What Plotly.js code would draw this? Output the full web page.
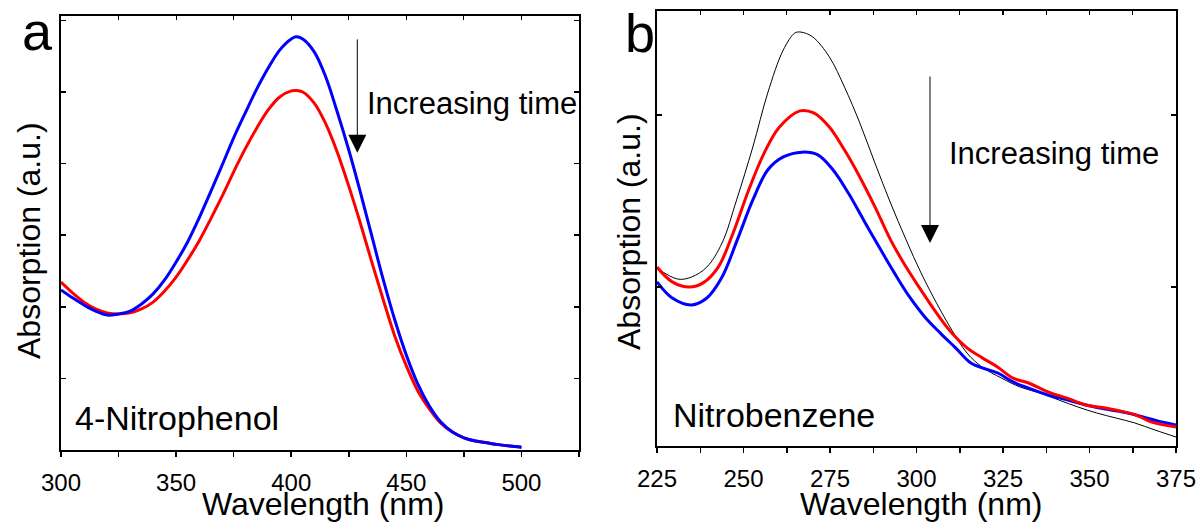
<!DOCTYPE html>
<html><head><meta charset="utf-8">
<script src="https://cdn.plot.ly/plotly-3.0.1.min.js"></script>
<style>html,body{margin:0;padding:0;background:#fff}</style>
</head><body><div id="chart" style="width:1199px;height:522px"></div>
<script>
// ---- Panel a: 4-Nitrophenol ----
const wavelengthA = [300,305,310,315,320,325,330,335,340,345,350,355,360,365,370,375,380,385,390,395,400,402,405,410,415,420,425,430,435,440,445,450,455,460,465,470,475,480,485,490,495,500];
const nitrophenolBlue = [0.447,0.425,0.405,0.388,0.377,0.380,0.388,0.408,0.436,0.475,0.525,0.581,0.648,0.721,0.796,0.872,0.941,1.008,1.067,1.117,1.148,1.154,1.148,1.112,1.042,0.944,0.838,0.721,0.598,0.475,0.363,0.265,0.184,0.123,0.078,0.050,0.034,0.025,0.020,0.015,0.011,0.008];
const nitrophenolRed = [0.469,0.439,0.413,0.394,0.383,0.380,0.383,0.394,0.413,0.444,0.483,0.531,0.584,0.645,0.709,0.777,0.841,0.899,0.950,0.986,1.003,1.004,1.000,0.969,0.911,0.832,0.737,0.634,0.525,0.419,0.318,0.235,0.165,0.115,0.075,0.050,0.034,0.025,0.020,0.015,0.011,0.008];

// ---- Panel b: Nitrobenzene ----
const wavelengthBBlack = [225,231,235,239.4,243.8,248,252.7,257,261.5,264.8,266.6,270,274.8,279.2,283.6,288,292.5,297,301.3,305.8,310.2,314.6,319,324.6,330,335.6,341,346.7,352,357.7,363,369,375];
const nitrobenzeneBlack = [0.555,0.523,0.529,0.558,0.628,0.753,0.907,1.064,1.189,1.238,1.241,1.227,1.169,1.081,0.977,0.860,0.744,0.637,0.541,0.453,0.375,0.308,0.267,0.235,0.209,0.192,0.172,0.151,0.134,0.119,0.105,0.084,0.064];
const wavelengthBRed = [225,229.4,234.4,238.3,242.7,247,251.5,256,260.4,266.3,270.3,274.8,279.2,283.6,288,292.5,297,301.3,305.8,310.2,314.6,319,323.5,327.9,332.4,338,343.5,349,354.6,360,363.4,367.8,375];
const nitrobenzeneRed = [0.558,0.515,0.500,0.512,0.558,0.657,0.782,0.890,0.965,1.012,1.006,0.965,0.898,0.820,0.733,0.637,0.558,0.491,0.424,0.366,0.323,0.294,0.267,0.235,0.221,0.195,0.177,0.157,0.148,0.137,0.128,0.108,0.093];
const wavelengthBBlue = [225,229.4,235,239.4,243.8,248.2,252.7,257,261.5,267,271.5,275.9,280.3,284.7,289.2,293.6,298,302.4,306.9,311.3,315.7,319,323.5,327.9,332.4,338,343.5,349,354.6,361,365.5,369.9,375];
const nitrobenzeneBlue = [0.515,0.468,0.448,0.468,0.529,0.637,0.753,0.840,0.878,0.892,0.884,0.840,0.773,0.695,0.616,0.541,0.471,0.413,0.366,0.323,0.279,0.265,0.250,0.224,0.206,0.186,0.172,0.157,0.145,0.134,0.122,0.110,0.099];

const FONT = "Liberation Sans, Arial, sans-serif";
const W = 1199, H = 522;
const px = v => v / W;
const py = v => 1 - v / H;

const line = (x, y, color, width, xa, ya) => ({
  type: 'scatter', mode: 'lines', x: x, y: y, xaxis: xa, yaxis: ya,
  line: {color: color, width: width, shape: 'spline', smoothing: 1},
  hoverinfo: 'skip', showlegend: false
});

const traces = [
  line(wavelengthA, nitrophenolRed, '#ff0000', 3, 'x', 'y'),
  line(wavelengthA, nitrophenolBlue, '#0000ff', 3, 'x', 'y'),
  line(wavelengthBBlack, nitrobenzeneBlack, '#000000', 1, 'x2', 'y2'),
  line(wavelengthBBlue, nitrobenzeneBlue, '#0000ff', 3, 'x2', 'y2'),
  line(wavelengthBRed, nitrobenzeneRed, '#ff0000', 3, 'x2', 'y2'),
  {type: 'scatter', x: [], y: [], xaxis: 'x3', yaxis: 'y', showlegend: false, hoverinfo: 'skip'},
  {type: 'scatter', x: [], y: [], xaxis: 'x4', yaxis: 'y2', showlegend: false, hoverinfo: 'skip'}
];

const tickFont = {family: FONT, size: 24, color: '#000'};
const baseX = {
  showgrid: false, zeroline: false, showline: true, linecolor: '#000', linewidth: 2,
  mirror: true, ticks: 'outside', ticklen: 5, tickwidth: 1.5, tickcolor: '#000',
  tickfont: tickFont, ticklabelstandoff: 5, fixedrange: true
};
const baseY = {
  showgrid: false, zeroline: false, showline: true, linecolor: '#000', linewidth: 2,
  mirror: 'ticks', ticks: 'inside', ticklen: 5, tickwidth: 1.5, tickcolor: '#000',
  showticklabels: false, fixedrange: true
};
const topAxis = {
  side: 'top', showgrid: false, zeroline: false, showline: false,
  ticks: 'inside', ticklen: 4, tickwidth: 1.2, tickcolor: '#000', showticklabels: false, fixedrange: true
};

const layout = {
  width: W, height: H, autosize: false,
  margin: {l: 0, r: 0, t: 0, b: 0},
  paper_bgcolor: '#fff', plot_bgcolor: '#fff',
  font: {family: FONT, color: '#000'},
  xaxis: Object.assign({}, baseX, {domain: [px(61), px(579)], range: [300, 525], tick0: 300, dtick: 50,
    minor: {dtick: 25, ticks: 'outside', ticklen: 5, tickwidth: 1.5, tickcolor: '#000', showgrid: false}}),
  yaxis: Object.assign({}, baseY, {domain: [py(450), py(16)], range: [0, 1.2123], tick0: 0, dtick: 0.2}),
  xaxis2: Object.assign({}, baseX, {domain: [px(657), px(1176)], range: [225, 375], tick0: 225, dtick: 25, anchor: 'y2',
    minor: {dtick: 12.5, ticks: 'outside', ticklen: 5, tickwidth: 1.5, tickcolor: '#000', showgrid: false}}),
  yaxis2: Object.assign({}, baseY, {domain: [py(446), py(11)], range: [0.0378, 1.3023], tick0: 0, dtick: 0.5, anchor: 'x2'}),
  xaxis3: Object.assign({}, topAxis, {overlaying: 'x', anchor: 'y', range: [300, 525], tick0: 300, dtick: 25}),
  xaxis4: Object.assign({}, topAxis, {overlaying: 'x2', anchor: 'y2', range: [225, 375], tick0: 225, dtick: 12.5}),
  annotations: [
    // panel letters
    {text: 'a', xref: 'paper', yref: 'paper', x: px(37), y: py(31), showarrow: false, font: {family: FONT, size: 54}, xanchor: 'center', yanchor: 'middle'},
    {text: 'b', xref: 'paper', yref: 'paper', x: px(640), y: py(33), showarrow: false, font: {family: FONT, size: 54}, xanchor: 'center', yanchor: 'middle'},
    // axis titles
    {text: 'Wavelength (nm)', xref: 'paper', yref: 'paper', x: px(323), y: py(504), showarrow: false, font: {family: FONT, size: 32}, xanchor: 'center', yanchor: 'middle'},
    {text: 'Wavelength (nm)', xref: 'paper', yref: 'paper', x: px(921), y: py(504), showarrow: false, font: {family: FONT, size: 32}, xanchor: 'center', yanchor: 'middle'},
    {text: 'Absorption (a.u.)', xref: 'paper', yref: 'paper', x: px(29), y: py(241), textangle: -90, showarrow: false, font: {family: FONT, size: 32}, xanchor: 'center', yanchor: 'middle'},
    {text: 'Absorption (a.u.)', xref: 'paper', yref: 'paper', x: px(629), y: py(232), textangle: -90, showarrow: false, font: {family: FONT, size: 32}, xanchor: 'center', yanchor: 'middle'},
    // sample names
    {text: '4-Nitrophenol', xref: 'paper', yref: 'paper', x: px(73), y: py(418), showarrow: false, font: {family: FONT, size: 34}, xanchor: 'left', yanchor: 'middle'},
    {text: 'Nitrobenzene', xref: 'paper', yref: 'paper', x: px(671), y: py(415), showarrow: false, font: {family: FONT, size: 34}, xanchor: 'left', yanchor: 'middle'},
    // increasing time labels
    {text: 'Increasing time', xref: 'paper', yref: 'paper', x: px(365), y: py(103), showarrow: false, font: {family: FONT, size: 31}, xanchor: 'left', yanchor: 'middle'},
    {text: 'Increasing time', xref: 'paper', yref: 'paper', x: px(947), y: py(153), showarrow: false, font: {family: FONT, size: 31}, xanchor: 'left', yanchor: 'middle'},
    // arrows
    {text: '', xref: 'x', yref: 'y', x: 428.7, y: 0.830, ax: 0, ay: -115, showarrow: true, arrowhead: 2, arrowsize: 3.6, arrowwidth: 1, arrowcolor: '#000', standoff: 0},
    {text: '', xref: 'x2', yref: 'y2', x: 303.9, y: 0.628, ax: 0, ay: -168, showarrow: true, arrowhead: 2, arrowsize: 3.6, arrowwidth: 1, arrowcolor: '#000', standoff: 0}
  ]
};

Plotly.newPlot('chart', traces, layout, {staticPlot: true, displayModeBar: false});
</script>
</body></html>
